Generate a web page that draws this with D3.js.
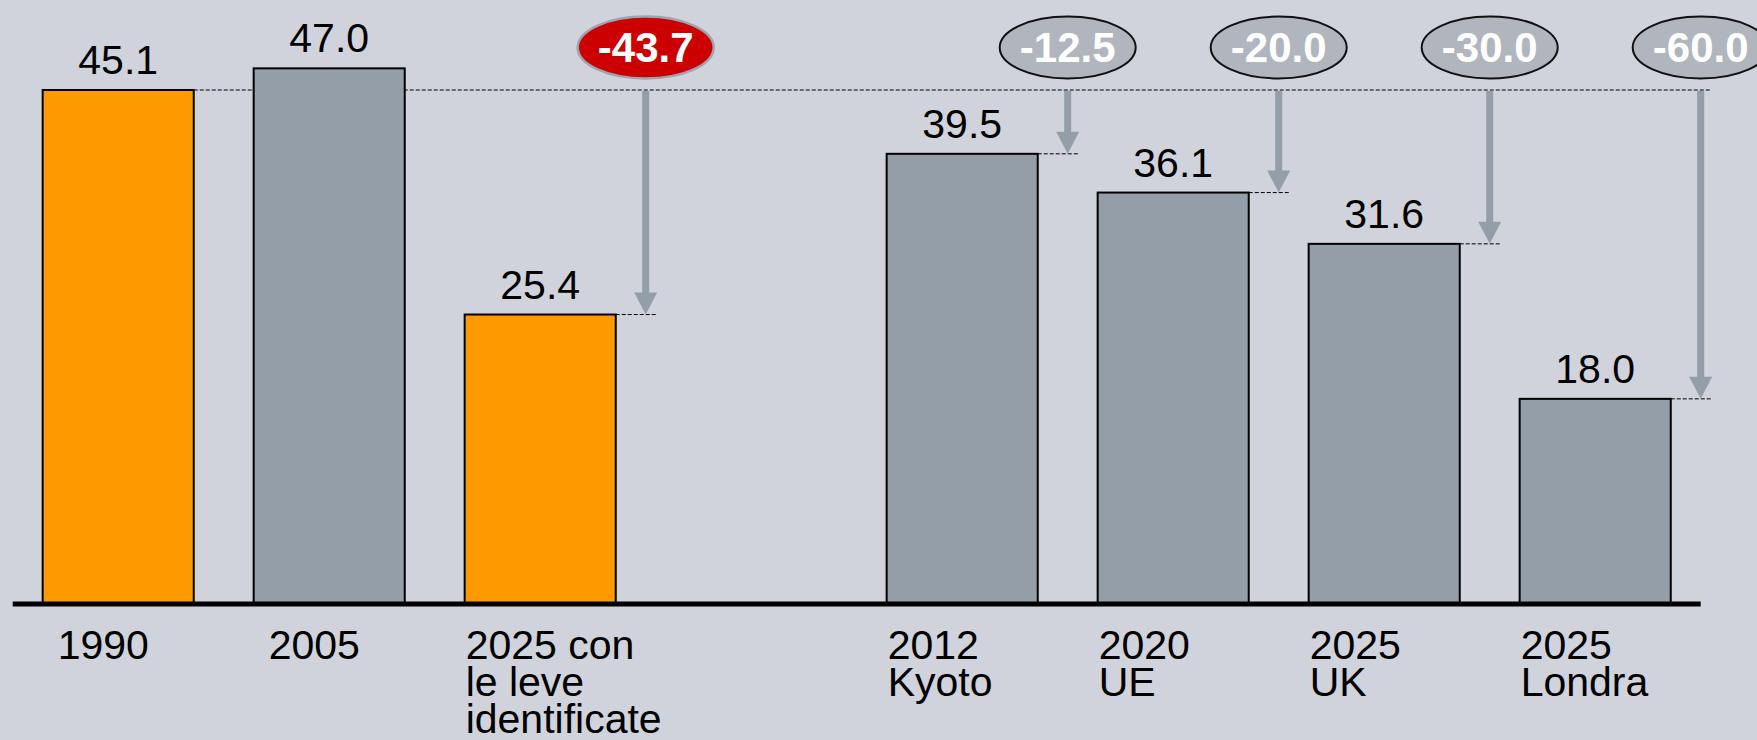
<!DOCTYPE html>
<html>
<head>
<meta charset="utf-8">
<script src="https://cdn.jsdelivr.net/npm/d3@7"></script>
<style>
  body { margin: 0; background: #d0d3db; }
  svg { display: block; font-family: 'Liberation Sans', Arial, sans-serif; }
</style>
</head>
<body>
<div id="wrapper"></div>
<script>
// emissions (Mt CO2) - baseline 1990 and targets
const categories = ['1990', '2005', '2025 con le leve identificate', '2012 Kyoto', '2020 UE', '2025 UK', '2025 Londra']
const labelLines = [
  ['1990'],
  ['2005'],
  ['2025 con', 'le leve', 'identificate'],
  ['2012', 'Kyoto'],
  ['2020', 'UE'],
  ['2025', 'UK'],
  ['2025', 'Londra'],
]
const values = [45.1, 47.0, 25.4, 39.5, 36.1, 31.6, 18.0]
// % change vs 1990
const changes = [null, null, -43.7, -12.5, -20.0, -30.0, -60.0]
const orangeBars = ['1990', '2025 con le leve identificate']
const baseCategory = '1990'

const width = 1757
const height = 740
const colorOrange = '#ff9900'
const colorGray = '#949ea9'
const colorBubble = '#b1b5be'
const colorRed = '#cc0000'

// plain hyphen for negatives, like the original
const fmt = d3.formatLocale({ decimal: '.', thousands: ',', grouping: [3], currency: ['', ''], minus: '-' }).format('.1f')

const data = categories.map((c, i) => ({
  key: c,
  lines: labelLines[i],
  value: values[i],
  change: changes[i],
}))

const svg = d3
  .select('#wrapper')
  .append('svg')
  .attr('width', width)
  .attr('height', height)

svg.append('rect').attr('width', width).attr('height', height).attr('fill', '#d0d3db')

// gap slot between the real values and the targets
const slots = [...categories.slice(0, 3), 'spacer', ...categories.slice(3)]

const xScale = d3
  .scaleBand()
  .domain(slots)
  .range([12.7, 1700.7])
  .paddingInner(0.284)
  .paddingOuter(0.142)

const yScale = d3.scaleLinear().domain([0, 45.1]).range([604, 90])

const gapHalf = (xScale.step() * xScale.paddingInner()) / 2
const arrowX = (d) => xScale(d.key) + xScale.bandwidth() + gapHalf

const base = data.find((d) => d.key === baseCategory)
const withChange = data.filter((d) => d.change !== null)
const lastArrow = withChange[withChange.length - 1]

// long dashed reference line at 1990 level
svg
  .append('line')
  .attr('x1', xScale(base.key) + xScale.bandwidth())
  .attr('x2', arrowX(lastArrow) + 10)
  .attr('y1', yScale(base.value))
  .attr('y2', yScale(base.value))
  .attr('stroke', '#000')
  .attr('stroke-width', 1)
  .attr('stroke-dasharray', '4,2')

// bars
svg
  .append('g')
  .selectAll('rect')
  .data(data)
  .join('rect')
  .attr('x', (d) => xScale(d.key))
  .attr('y', (d) => yScale(d.value))
  .attr('width', xScale.bandwidth())
  .attr('height', (d) => yScale(0) - yScale(d.value))
  .attr('fill', (d) => (orangeBars.includes(d.key) ? colorOrange : colorGray))
  .attr('stroke', '#000')
  .attr('stroke-width', 2)

// short dashed lines at target bar tops
svg
  .append('g')
  .selectAll('line')
  .data(withChange)
  .join('line')
  .attr('x1', (d) => xScale(d.key) + xScale.bandwidth())
  .attr('x2', (d) => arrowX(d) + 12)
  .attr('y1', (d) => yScale(d.value))
  .attr('y2', (d) => yScale(d.value))
  .attr('stroke', '#000')
  .attr('stroke-width', 1)
  .attr('stroke-dasharray', '4,2')

// arrows from 1990 level to target
const arrows = svg.append('g').selectAll('g').data(withChange).join('g')
arrows
  .append('line')
  .attr('x1', arrowX)
  .attr('x2', arrowX)
  .attr('y1', yScale(base.value) + 1)
  .attr('y2', (d) => yScale(d.value) - 20)
  .attr('stroke', colorGray)
  .attr('stroke-width', 7)
arrows
  .append('path')
  .attr('d', (d) => {
    const x = arrowX(d)
    const y = yScale(d.value)
    return `M${x - 11.5},${y - 22}L${x + 11.5},${y - 22}L${x},${y}Z`
  })
  .attr('fill', colorGray)

// bubbles with % change
const bubbles = svg.append('g').selectAll('g').data(withChange).join('g')
bubbles
  .append('ellipse')
  .attr('cx', arrowX)
  .attr('cy', 47.5)
  .attr('rx', 68)
  .attr('ry', 31)
  .attr('fill', (d) => (orangeBars.includes(d.key) ? colorRed : colorBubble))
  .attr('stroke', (d) => (orangeBars.includes(d.key) ? '#9ea4ad' : '#111'))
  .attr('stroke-width', (d) => (orangeBars.includes(d.key) ? 2.5 : 2))
bubbles
  .append('text')
  .attr('x', arrowX)
  .attr('y', 62)
  .attr('text-anchor', 'middle')
  .attr('fill', '#fff')
  .attr('font-weight', 'bold')
  .attr('font-size', 42)
  .text((d) => fmt(d.change))

// value labels
svg
  .append('g')
  .selectAll('text')
  .data(data)
  .join('text')
  .attr('x', (d) => xScale(d.key) + xScale.bandwidth() / 2)
  .attr('y', (d) => yScale(d.value) - 16)
  .attr('text-anchor', 'middle')
  .attr('font-size', 41)
  .attr('fill', '#000')
  .text((d) => fmt(d.value))

// category labels (single-line ones sit a bit further in)
const labelX = (d) => xScale(d.key) + (d.lines.length === 1 ? 15 : 1)
const catLabels = svg
  .append('g')
  .selectAll('text')
  .data(data)
  .join('text')
  .attr('x', labelX)
  .attr('y', 659)
  .attr('font-size', 41)
  .attr('fill', '#000')
catLabels
  .selectAll('tspan')
  .data((d) => d.lines.map((l) => ({ l, x: labelX(d) })))
  .join('tspan')
  .attr('x', (t) => t.x)
  .attr('dy', (t, i) => (i === 0 ? 0 : 37))
  .text((t) => t.l)

// baseline
svg
  .append('line')
  .attr('x1', xScale.range()[0])
  .attr('x2', xScale.range()[1])
  .attr('y1', yScale(0))
  .attr('y2', yScale(0))
  .attr('stroke', '#000')
  .attr('stroke-width', 5)
</script>
</body>
</html>
